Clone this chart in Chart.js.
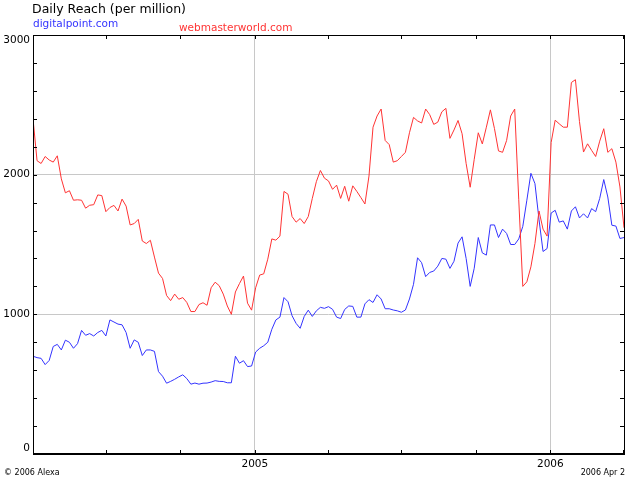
<!DOCTYPE html>
<html>
<head>
<meta charset="utf-8">
<script src="https://cdn.jsdelivr.net/npm/chart.js@4"></script>
<style>
  html, body { margin: 0; padding: 0; background: #fff; }
</style>
</head>
<body>
<canvas id="chart" width="640" height="480"></canvas>
<script>
// sampled every 5 days starting 2004 Apr 2
const stepDays = 5;
const seriesNames = ['digitalpoint.com', 'webmasterworld.com'];
const digitalpoint = [
  700, 690, 685, 640, 670, 770, 785, 745, 815, 800, 757, 790, 885, 850, 862, 845, 870, 885, 845, 960,
  945, 930, 925, 870, 757, 817, 800, 705, 745, 745, 735, 590, 557, 507, 520, 535, 552, 567, 540, 500,
  508, 500, 507, 508, 515, 525, 520, 519, 510, 510, 700, 650, 668, 626, 630, 730, 757, 775, 800, 893,
  960, 980, 1120, 1090, 990, 935, 900, 985, 1030, 985, 1025, 1050, 1043, 1055, 1036, 980, 970, 1035, 1060, 1057,
  980, 980, 1075, 1105, 1085, 1140, 1110, 1040, 1040, 1031, 1025, 1015, 1031, 1110, 1215, 1405, 1370, 1270, 1300, 1310,
  1345, 1400, 1395, 1329, 1380, 1510, 1555, 1400, 1200, 1330, 1550, 1440, 1424, 1640, 1640, 1550, 1610, 1579, 1500, 1500,
  1540, 1630, 1817, 2010, 1936, 1680, 1450, 1471, 1725, 1745, 1660, 1669, 1610, 1740, 1770, 1690, 1720, 1690, 1757, 1735,
  1830, 1965, 1840, 1638, 1632, 1543, 1550
];
const webmasterworld = [
  2400, 2100, 2080, 2130, 2105, 2090, 2135, 1970, 1870, 1885, 1817, 1820, 1817, 1760, 1781, 1785, 1855, 1850, 1735, 1765,
  1780, 1740, 1825, 1775, 1640, 1650, 1680, 1525, 1507, 1530, 1410, 1295, 1257, 1135, 1098, 1145, 1108, 1120, 1085, 1020,
  1020, 1070, 1083, 1065, 1190, 1230, 1205, 1145, 1060, 1000, 1160, 1220, 1274, 1080, 1030, 1190, 1281, 1290, 1395, 1540,
  1531, 1560, 1880, 1860, 1700, 1660, 1686, 1650, 1700, 1830, 1950, 2030, 1975, 1955, 1895, 1925, 1830, 1917, 1810, 1920,
  1880, 1836, 1790, 1990, 2340, 2420, 2470, 2245, 2215, 2090, 2100, 2130, 2160, 2300, 2410, 2385, 2370, 2470, 2430, 2360,
  2376, 2450, 2475, 2260, 2320, 2388, 2293, 2080, 1910, 2110, 2300, 2220, 2340, 2464, 2330, 2170, 2160, 2245, 2420, 2470,
  1820, 1200, 1233, 1340, 1507, 1740, 1610, 1560, 2230, 2390, 2364, 2340, 2340, 2660, 2680, 2380, 2162, 2221, 2174, 2130,
  2240, 2329, 2160, 2186, 2090, 1912, 1620
];
// quarter starts, counted in days from 2004 Apr 2
const quarterDays = [90, 182, 274, 364, 455, 547, 639, 729];
const yearLabels = { 274: '2005', 639: '2006' };
const yTickValues = [0, 200, 400, 600, 800, 1000, 1200, 1400, 1600, 1800, 2000, 2200, 2400, 2600, 2800, 3000];
const yLabelValues = [1000, 2000];
const yEndLabels = [0, 3000];
const yGridValues = [1000, 2000];

const font = '"DejaVu Sans", Verdana, sans-serif';

function toPoints(values) {
    return values.map((v, i) => ({ x: i * stepDays, y: v }));
}

const framePlugin = {
    id: 'frame',
    afterDraw(chart) {
        const { ctx, chartArea: a, scales } = chart;
        ctx.save();
        ctx.strokeStyle = '#000';
        ctx.lineWidth = 1;
        ctx.strokeRect(a.left + 0.5, a.top + 0.5, a.right - a.left, a.bottom - a.top);
        ctx.beginPath();
        ctx.moveTo(a.left, a.bottom - 0.5);
        ctx.lineTo(a.right + 1, a.bottom - 0.5);
        scales.x.ticks.forEach(t => {
            const x = Math.round(scales.x.getPixelForValue(t.value)) + 0.5;
            ctx.moveTo(x, a.top);
            ctx.lineTo(x, a.top + 4);
            ctx.moveTo(x, a.bottom);
            ctx.lineTo(x, a.bottom - 4);
        });
        scales.y.ticks.forEach(t => {
            const y = Math.round(scales.y.getPixelForValue(t.value)) + 0.5;
            ctx.moveTo(a.left, y);
            ctx.lineTo(a.left + 4, y);
            ctx.moveTo(a.right, y);
            ctx.lineTo(a.right - 4, y);
        });
        ctx.stroke();

        // end labels of the y axis sit inside the frame height
        ctx.fillStyle = '#000';
        ctx.font = '10.5px ' + font;
        ctx.textAlign = 'right';
        ctx.textBaseline = 'top';
        ctx.fillText(String(yEndLabels[1]), a.left - 3, scales.y.getPixelForValue(yEndLabels[1]));
        ctx.textBaseline = 'bottom';
        ctx.fillText(String(yEndLabels[0]), a.left - 3, scales.y.getPixelForValue(yEndLabels[0]));

        ctx.textAlign = 'left';
        ctx.textBaseline = 'alphabetic';
        ctx.font = '12.5px ' + font;
        ctx.fillText('Daily Reach (per million)', 32, 13);
        ctx.font = '10.5px ' + font;
        ctx.fillStyle = '#3333ff';
        ctx.fillText(seriesNames[0], 33, 27);
        ctx.fillStyle = '#ff3333';
        ctx.fillText(seriesNames[1], 179, 31);
        ctx.fillStyle = '#000';
        ctx.font = '8px ' + font;
        ctx.fillText('\u00a9 2006 Alexa', 4, 475);
        ctx.textAlign = 'right';
        ctx.fillText('2006 Apr 2', 625, 475);
        ctx.restore();
    }
};

document.addEventListener('DOMContentLoaded', () => {
    new Chart(document.getElementById('chart'), {
        type: 'line',
        data: {
            datasets: [{
                label: seriesNames[1],
                data: toPoints(webmasterworld),
                borderColor: '#ff3333'
            }, {
                label: seriesNames[0],
                data: toPoints(digitalpoint),
                borderColor: '#3333ff'
            }]
        },
        options: {
            responsive: false,
            animation: false,
            layout: { padding: { top: 35, right: 16, left: 0, bottom: 0 } },
            elements: {
                point: { radius: 0 },
                line: { borderWidth: 1, tension: 0, fill: false }
            },
            plugins: {
                legend: { display: false },
                tooltip: { enabled: false }
            },
            scales: {
                x: {
                    type: 'linear',
                    min: 0,
                    max: 730,
                    afterBuildTicks: s => { s.ticks = quarterDays.map(v => ({ value: v })); },
                    afterFit: s => { s.height = 26; },
                    ticks: {
                        autoSkip: false,
                        maxRotation: 0,
                        padding: 4,
                        color: '#000',
                        font: { family: font, size: 10.5 },
                        callback: v => yearLabels[v] || ''
                    },
                    grid: {
                        drawTicks: false,
                        color: c => (c.tick && yearLabels[c.tick.value]) ? '#c8c8c8' : 'rgba(0,0,0,0)'
                    },
                    border: { display: false }
                },
                y: {
                    min: 0,
                    max: 3000,
                    afterBuildTicks: s => { s.ticks = yTickValues.map(v => ({ value: v })); },
                    afterFit: s => { s.width = 33; },
                    ticks: {
                        autoSkip: false,
                        padding: 3,
                        color: '#000',
                        font: { family: font, size: 10.5 },
                        callback: v => yLabelValues.includes(v) ? String(v) : ''
                    },
                    grid: {
                        drawTicks: false,
                        color: c => (c.tick && yGridValues.includes(c.tick.value)) ? '#c8c8c8' : 'rgba(0,0,0,0)'
                    },
                    border: { display: false }
                }
            }
        },
        plugins: [framePlugin]
    });
});
</script>
</body>
</html>
